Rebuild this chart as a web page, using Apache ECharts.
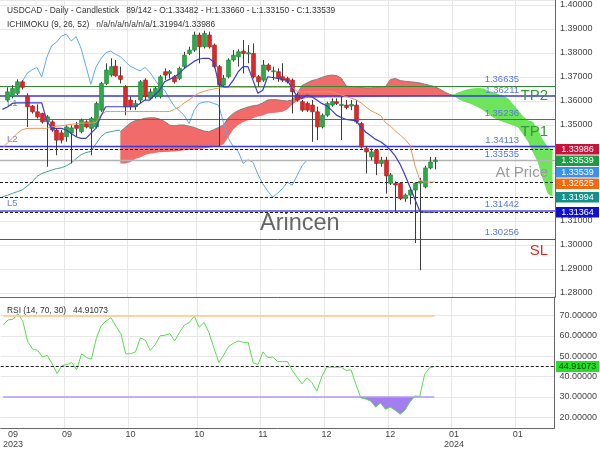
<!DOCTYPE html>
<html>
<head>
<meta charset="utf-8">
<script src="https://cdn.jsdelivr.net/npm/echarts@6/dist/echarts.min.js"></script>
<style>
html,body{margin:0;padding:0;background:#ffffff;}
#chart{width:600px;height:450px;}
</style>
</head>
<body>
<div id="chart"></div>
<script>
// ================= DATA =================
const slotCount = 113;            // daily slots shown (candles + projected cloud)
const candleStart = 1;            // slot of first candle

const candleOpen = [
1.3604,1.3618,1.3632,1.3680,1.3620,1.3579,1.3555,1.3548,1.3513,1.3513,
1.3479,1.3467,1.3451,1.3467,1.3499,1.3472,1.3513,1.3486,1.3492,1.3562,
1.3673,1.3708,1.3745,1.3705,1.3659,1.3604,1.3576,1.3604,1.3687,1.3611,
1.3618,1.3618,1.3722,1.3715,1.3701,1.3694,1.3743,1.3798,1.3812,1.3875,
1.3826,1.3875,1.3833,1.3743,1.3666,1.3701,1.3771,1.3784,1.3808,1.3796,
1.3798,1.3701,1.3687,1.3750,1.3722,1.3722,1.3701,1.3694,1.3687,1.3625,
1.3597,1.3590,1.3583,1.3555,1.3492,1.3541,1.3583,1.3597,1.3581,1.3583,
1.3579,1.3583,1.3506,1.3402,1.3367,1.3395,1.3340,1.3353,1.3257,1.3256,
1.3257,1.3194,1.3208,1.3229,1.3258,1.3242,1.3321,1.33482];
const candleHigh = [
1.3657,1.3666,1.3690,1.3687,1.3632,1.3583,1.3586,1.3551,1.3541,1.3520,
1.3486,1.3479,1.3499,1.3499,1.3513,1.3527,1.3520,1.3534,1.3597,1.3680,
1.3757,1.3778,1.3771,1.3743,1.3666,1.3618,1.3604,1.3687,1.3694,1.3652,
1.3659,1.3708,1.3736,1.3729,1.3708,1.3743,1.3805,1.3826,1.3889,1.3885,
1.3893,1.3889,1.3840,1.3750,1.3708,1.3778,1.3812,1.3815,1.3854,1.3833,
1.3840,1.3708,1.3771,1.3757,1.3743,1.3736,1.3757,1.3701,1.3694,1.3634,
1.3604,1.3597,1.3604,1.3576,1.3548,1.3597,1.3611,1.3611,1.3618,1.3604,
1.3604,1.3604,1.3513,1.3412,1.3402,1.3398,1.3367,1.3367,1.3300,1.3265,
1.3262,1.3215,1.3240,1.3262,1.3280,1.3330,1.3367,1.33660];
const candleLow = [
1.3597,1.3611,1.3625,1.3648,1.3492,1.3548,1.3527,1.3506,1.3326,1.3472,
1.3374,1.3423,1.3430,1.3340,1.3451,1.3465,1.3486,1.3374,1.3486,1.3555,
1.3666,1.3701,1.3701,1.3673,1.3541,1.3562,1.3562,1.3590,1.3604,1.3604,
1.3611,1.3611,1.3687,1.3694,1.3673,1.3687,1.3736,1.3791,1.3805,1.3757,
1.3819,1.3819,1.3736,1.3409,1.3659,1.3694,1.3764,1.3743,1.3715,1.3757,
1.3694,1.3659,1.3680,1.3722,1.3687,1.3680,1.3680,1.3673,1.3548,1.3597,
1.3555,1.3555,1.3430,1.3437,1.3486,1.3534,1.3576,1.3583,1.3437,1.3565,
1.3562,1.3506,1.3402,1.3298,1.3353,1.3291,1.3326,1.3214,1.3250,1.3139,
1.3187,1.3180,1.3169,1.3008,1.2895,1.3236,1.3315,1.33150];
const candleClose = [
1.3638,1.3652,1.3680,1.3657,1.3576,1.3555,1.3534,1.3513,1.3534,1.3479,
1.3437,1.3437,1.3492,1.3488,1.3486,1.3520,1.3492,1.3527,1.3590,1.3673,
1.3729,1.3743,1.3705,1.3690,1.3576,1.3576,1.3590,1.3680,1.3618,1.3638,
1.3652,1.3701,1.3708,1.3722,1.3680,1.3736,1.3791,1.3812,1.3875,1.3826,
1.3882,1.3826,1.3743,1.3666,1.3694,1.3771,1.3791,1.3805,1.3798,1.3801,
1.3701,1.3680,1.3750,1.3729,1.3726,1.3694,1.3687,1.3680,1.3638,1.3604,
1.3562,1.3562,1.3555,1.3492,1.3541,1.3590,1.3597,1.3590,1.3586,1.3573,
1.3586,1.3513,1.3409,1.3388,1.3388,1.3340,1.3353,1.3288,1.3292,1.3250,
1.3194,1.3208,1.3229,1.3257,1.3266,1.3321,1.3346,1.33539];

const tenkanStart = 0;
const tenkan = [
1.3565,1.3575,1.3590,1.3592,1.3592,1.3592,1.3592,1.3592,1.3592,1.3520,
1.3486,1.3486,1.3486,1.3479,1.3465,1.3451,1.3444,1.3444,1.3465,1.3486,
1.3534,1.3576,1.3576,1.3576,1.3576,1.3576,1.3576,1.3576,1.3590,1.3604,
1.3604,1.3625,1.3645,1.3680,1.3690,1.3700,1.3715,1.3735,1.3750,1.3765,
1.3775,1.3778,1.3778,1.3764,1.3673,1.3659,1.3659,1.3687,1.3722,1.3743,
1.3743,1.3687,1.3632,1.3645,1.3701,1.3698,1.3694,1.3690,1.3687,1.3652,
1.3618,1.3611,1.3625,1.3618,1.3604,1.3590,1.3580,1.3562,1.3541,1.3531,
1.3523,1.3520,1.3518,1.3490,1.3470,1.3455,1.3440,1.3430,1.3415,1.3395,
1.3370,1.3335,1.3290,1.3240,1.3190,1.3140,1.31364,1.31364,1.31364];

const kijunStart = 0;
const kijun = [
1.3404,1.3425,1.3445,1.3465,1.3480,1.3486,1.3486,1.3486,1.3486,1.3486,
1.3492,1.3495,1.3497,1.3500,1.3503,1.3505,1.3508,1.3508,1.3508,1.3510,
1.3540,1.3556,1.3556,1.3556,1.3556,1.3556,1.3556,1.3556,1.3556,1.3556,
1.3556,1.3556,1.3556,1.3556,1.3556,1.3565,1.3575,1.3592,1.3605,1.3620,
1.3633,1.3640,1.3646,1.3650,1.3654,1.3657,1.3657,1.3657,1.3657,1.3657,
1.3657,1.3657,1.3657,1.3657,1.3657,1.3657,1.3657,1.3657,1.3657,1.3657,
1.3640,1.3638,1.3638,1.3638,1.3638,1.3638,1.3638,1.3638,1.3632,1.3625,
1.3618,1.3612,1.3605,1.3592,1.3575,1.3560,1.3550,1.3540,1.3510,1.3495,
1.3475,1.3458,1.3440,1.3415,1.3330,1.3270,1.32625,1.32625,1.32625];

const chikouStart = 3;
const chikou = [
1.3645,1.3680,1.3715,1.3730,1.3740,1.3700,1.3780,1.3830,1.3845,1.3870,
1.3878,1.3850,1.3868,1.3820,1.3745,1.3670,1.3740,1.3775,1.3800,1.3808,
1.3795,1.3785,1.3765,1.3745,1.3735,1.3725,1.3740,1.3720,1.3690,1.3660,
1.3645,1.3610,1.3578,1.3560,1.3540,1.3506,1.3560,1.3590,1.3595,1.3597,
1.3590,1.3583,1.3510,1.3444,1.3410,1.3390,1.3340,1.3355,1.3345,1.3295,
1.3255,1.3225,1.3200,1.3215,1.3235,1.3262,1.3249,1.3290,1.3330,1.3354];

const laggingStart = 0;
const lagging = [
1.3201,1.3207,1.3215,1.3222,1.3229,1.3245,1.3262,1.3285,1.3298,1.3305,
1.3312,1.3318,1.3322,1.3330,1.3342,1.3360,1.3376,1.3385,1.3390,1.3420,
1.3450,1.3467,1.3472,1.3476,1.3479];

const cloudStart = 24;
const spanA = [
1.3340,1.3340,1.3345,1.3358,1.3365,1.3375,1.3380,1.3383,1.3386,1.3388,
1.3389,1.3390,1.3392,1.3395,1.3396,1.3398,1.3400,1.3402,1.3405,1.3408,
1.3410,1.3420,1.3450,1.3482,1.3500,1.3512,1.3520,1.3528,1.3535,1.3540,
1.3548,1.3550,1.3552,1.3555,1.3565,1.3585,1.3600,1.3608,1.3612,1.3613,
1.3614,1.3614,1.3615,1.3615,1.3615,1.3615,1.3616,1.3616,1.3616,1.3616,
1.3617,1.3617,1.3617,1.3618,1.3618,1.3618,1.3619,1.3619,1.3619,1.3620,
1.3620,1.3620,1.3620,1.3621,1.3621,1.3621,1.3621,1.3621,
1.3628,1.3638,1.3645,1.3650,1.3653,1.3654,1.3652,1.3642,1.3635,1.3628,
1.3622,1.3610,1.3585,1.3562,1.3535,1.3520,1.3514,1.3480,1.3440,1.3410,1.3396];
const spanB = [
1.3472,1.3490,1.3507,1.3518,1.3522,1.3528,1.3530,1.3530,1.3525,1.3515,
1.3500,1.3497,1.3500,1.3500,1.3495,1.3490,1.3482,1.3475,1.3472,1.3480,
1.3490,1.3500,1.3530,1.3548,1.3560,1.3568,1.3575,1.3580,1.3583,1.3592,
1.3604,1.3606,1.3605,1.3602,1.3600,1.3605,1.3630,1.3665,1.3675,1.3685,
1.3690,1.3698,1.3705,1.3708,1.3706,1.3695,1.3662,1.3660,1.3658,1.3656,
1.3655,1.3655,1.3656,1.3658,1.3660,1.3690,1.3694,1.3685,1.3682,1.3680,
1.3678,1.3675,1.3670,1.3665,1.3660,1.3650,1.3638,1.3628,
1.3620,1.3606,1.3597,1.3591,1.3582,1.3572,1.3560,1.3545,1.3530,1.3520,
1.3512,1.3505,1.3498,1.3490,1.3460,1.3430,1.3385,1.3345,1.3275,1.3215,1.3200];

const rsiStart = 0;
const rsi = [
65.3,67.8,68.1,70.8,67.3,57.1,53.5,52.9,49.6,50.4,
46.2,41.5,45.4,45.9,46.9,43.3,51.2,49.3,48.5,58.7,
65.0,67.3,68.9,64.7,61.1,51.2,51.2,52.1,59.0,57.9,
52.8,55.6,60.0,60.3,61.1,57.5,61.8,65.3,66.6,69.7,
64.2,66.6,61.5,54.0,46.9,50.6,54.8,56.4,57.5,56.8,
56.8,46.9,45.9,52.1,49.3,49.6,47.4,47.3,47.4,43.0,
39.6,36.4,39.4,37.1,32.8,39.9,44.6,44.6,44.6,44.6,
43.0,43.3,36.0,29.5,29.0,28.0,25.0,27.0,24.0,25.0,
23.5,21.5,23.5,27.5,30.5,30.2,41.0,44.3,44.91073];
const rsiUpper = 70, rsiLower = 30, rsiLast = 44.91073;

// horizontal levels on the price panel
const levelValues = [1.36635, 1.36211, 1.35236, 1.34113, 1.33986, 1.33535, 1.32625, 1.31994, 1.31442, 1.31364, 1.30256];
// price tags on the right axis
const tagValues = [1.33986, 1.33539, 1.33539, 1.32625, 1.31994, 1.31364];

// x labels
const xLabelSlots = [2, 13, 26, 40, 53, 66, 79, 92, 105];
const xLabelTexts = ['09\n2023', '09', '10', '10', '11', '12', '12', '01\n2024', '01'];
const xGridSlots = [13, 26, 40, 53, 66, 79, 92, 105];

const headerLine1 = 'USDCAD - Daily - Candlestick   89/142 - O:1.33482 - H:1.33660 - L:1.33150 - C:1.33539';
const headerLine2 = 'ICHIMOKU (9, 26, 52)   n/a/n/a/n/a/n/a/1.31994/1.33986';
const rsiHeader = 'RSI (14, 70, 30)   44.91073';
const watermark = 'Arincen';

// ================= STYLE / LAYOUT =================
const FONT = '"Liberation Sans", Arial, Helvetica, sans-serif';
const levelStyles = [
  {line:{color:'#2e8b2e', width:1, type:'solid'}, num:true},
  {line:{color:'#3838d8', width:1.6, type:'solid'}, num:true,
     big:{text:'TP2', pos:'insideEnd', color:'#2f9b35', dy:0},
     left:{text:'L1', pos:'insideStartBottom', color:'#6d9d80'}},
  {line:{color:'#2e8b2e', width:1, type:'solid'}, num:true,
     big:{text:'TP1', pos:'insideEndBottom', color:'#2f9b35', dy:5}},
  {line:{color:'#3838d8', width:1.3, type:'solid'}, num:true,
     left:{text:'L2', pos:'insideStartTop', color:'#6a86d8'}},
  {line:{color:'#1e1e1e', width:1, type:[3,2]}},
  {line:{color:'#b4b4b4', width:1.3, type:'solid'}, num:true,
     big:{text:'At Price', pos:'insideEndBottom', color:'#9a9a9a', dy:5}},
  {line:{color:'#1e1e1e', width:1, type:[3,2]}},
  {line:{color:'#1e1e1e', width:1, type:[3,2]}},
  {line:{color:'#5050e6', width:1.6, type:'solid'}, num:true,
     left:{text:'L5', pos:'insideStartTop', color:'#6a86d8'}},
  {line:{color:'#1e1e1e', width:1, type:[3,2]}},
  {line:{color:'#dd2020', width:1, type:'solid'}, num:true,
     big:{text:'SL', pos:'insideEndBottom', color:'#e02828', dy:5}}
];
const tagColors = ['#c8133a', '#1d9b45', '#3a92e8', '#f26a0f', '#14908c', '#1010cc'];
const hiddenLine = {color:'rgba(0,0,0,0)', width:1, type:'solid'};

// price panel: 1.40 at y=5, 1.28 at y=293 -> 2400 px per 1.0
const mainTop = 0, mainH = 297;
const mainMax = 1.40 + 5 / 2400, mainMin = 1.40 - (mainH - 5) / 2400;
// rsi panel: 70 at y=316, 30 at y=400
const rsiTop = 297, rsiH = 135;
const rsiMax = 70 + (316 - rsiTop) / 2.1, rsiMin = 70 - (rsiTop + rsiH - 316) / 2.1;

// ================= BUILD =================
const cats = Array.from({length: slotCount}, (_, i) => String(i));
function pad(arr, start) {
  const out = new Array(slotCount).fill('-');
  arr.forEach((v, i) => { out[start + i] = v; });
  return out;
}
const candleData = candleOpen.map((o, i) => [candleStart + i, o, candleClose[i], candleLow[i], candleHigh[i]]);

const cloudLower = spanA.map((a, i) => Math.min(a, spanB[i]));
const cloudRed = spanA.map((a, i) => spanB[i] > a ? +(spanB[i] - a).toFixed(6) : 0);
const cloudGreen = spanA.map((a, i) => a > spanB[i] ? +(a - spanB[i]).toFixed(6) : 0);
const redEdge = spanB.map((b, i) => (b >= spanA[i] || (i > 0 && spanB[i-1] >= spanA[i-1])) ? b : '-');

const rsiBase = rsi.map(v => Math.min(v, rsiLower));
const rsiBand = rsi.map(v => +(rsiLower - Math.min(v, rsiLower)).toFixed(4));

const labelMap = {};
xLabelSlots.forEach((s, i) => { labelMap[String(s)] = xLabelTexts[i]; });

// level markLines
const mlData = [];
levelValues.forEach((v, i) => {
  const st = levelStyles[i];
  mlData.push({
    yAxis: v, lineStyle: Object.assign({}, st.line),
    label: st.num ? {show:true, position:'insideEndTop', formatter: v.toFixed(5), color:'#5a78e2',
                     fontSize:9.5, fontFamily:FONT, distance:[36, 1]} : {show:false}
  });
  if (st.big) mlData.push({
    yAxis: v, lineStyle: Object.assign({}, hiddenLine),
    label:{show:true, position:st.big.pos, formatter:st.big.text, color:st.big.color,
           fontSize:15, fontFamily:FONT, distance:[7, st.big.dy]}
  });
  if (st.left) mlData.push({
    yAxis: v, lineStyle: Object.assign({}, hiddenLine),
    label:{show:true, position:st.left.pos, formatter:st.left.text, color:st.left.color,
           fontSize:9.5, fontFamily:FONT, distance:[7, 2]}
  });
});

const gridLineStyle = {color:'#e7e7e7', width:1};
const axisLineStyle = {color:'#666', width:1};

const option = {
  animation: false,
  backgroundColor: '#ffffff',
  textStyle: {fontFamily: FONT},
  grid: [
    {left:0, right:45, top:mainTop, height:mainH},
    {left:0, right:45, top:rsiTop, height:rsiH}
  ],
  xAxis: [
    {gridIndex:0, type:'category', data:cats, boundaryGap:true,
     axisLine:{show:true, lineStyle:axisLineStyle}, axisTick:{show:false}, axisLabel:{show:false},
     splitLine:{show:true, interval:(i) => xGridSlots.includes(i), lineStyle:gridLineStyle}},
    {gridIndex:1, type:'category', data:cats, boundaryGap:true,
     axisLine:{show:true, lineStyle:axisLineStyle}, axisTick:{show:false},
     axisLabel:{show:true, interval:(i) => xLabelSlots.includes(i),
                formatter:(v) => labelMap[v] || '', fontSize:9, color:'#444',
                lineHeight:10, margin:2, fontFamily:FONT},
     splitLine:{show:true, interval:(i) => xGridSlots.includes(i), lineStyle:gridLineStyle}}
  ],
  yAxis: [
    {gridIndex:0, type:'value', position:'right', min:mainMin, max:mainMax, splitNumber:12,
     axisLine:{show:true, lineStyle:axisLineStyle}, axisTick:{show:false},
     axisLabel:{formatter:(v) => v.toFixed(5), fontSize:9, color:'#444', margin:5,
                showMinLabel:false, showMaxLabel:false, fontFamily:FONT},
     splitLine:{show:true, lineStyle:gridLineStyle}},
    {gridIndex:1, type:'value', position:'right', min:rsiMin, max:rsiMax, splitNumber:7,
     axisLine:{show:true, lineStyle:axisLineStyle}, axisTick:{show:false},
     axisLabel:{formatter:(v) => v.toFixed(5), fontSize:9, color:'#444', margin:5,
                showMinLabel:false, showMaxLabel:false, fontFamily:FONT},
     splitLine:{show:true, lineStyle:gridLineStyle}}
  ],
  series: [
    // cloud
    {type:'line', name:'cloudBase', xAxisIndex:0, yAxisIndex:0, stack:'cloud', data:pad(cloudLower, cloudStart),
     symbol:'none', lineStyle:{opacity:0}, silent:true, z:1},
    {type:'line', name:'cloudRed', xAxisIndex:0, yAxisIndex:0, stack:'cloud', data:pad(cloudRed, cloudStart),
     symbol:'none', lineStyle:{opacity:0}, areaStyle:{color:'#f26b6b', opacity:1}, silent:true, z:1},
    {type:'line', name:'cloudGreen', xAxisIndex:0, yAxisIndex:0, stack:'cloud', data:pad(cloudGreen, cloudStart),
     symbol:'none', lineStyle:{opacity:0}, areaStyle:{color:'#6ee35c', opacity:1}, silent:true, z:1},
    {type:'line', name:'redEdge', xAxisIndex:0, yAxisIndex:0, data:pad(redEdge, cloudStart),
     symbol:'none', lineStyle:{color:'#8c7b7b', width:1}, silent:true, z:2},
    // lagging lines
    {type:'line', name:'lagging', xAxisIndex:0, yAxisIndex:0, data:pad(lagging, laggingStart),
     symbol:'none', lineStyle:{color:'#4b9e8e', width:1}, silent:true, z:3},
    {type:'line', name:'chikou', xAxisIndex:0, yAxisIndex:0, data:pad(chikou, chikouStart),
     symbol:'none', lineStyle:{color:'#62a8ee', width:1}, silent:true, z:3},
    // levels
    {type:'line', name:'levels', xAxisIndex:0, yAxisIndex:0, data:pad([], 0), symbol:'none', silent:true, z:4,
     markLine:{symbol:['none','none'], precision:5, silent:true, animation:false, data:mlData}},
    // candles
    {type:'custom', name:'candles', xAxisIndex:0, yAxisIndex:0, z:5, silent:true,
     encode:{x:0, y:[1,2,3,4]}, data:candleData,
     renderItem:(params, api) => {
       const x = api.value(0), o = api.value(1), c = api.value(2), l = api.value(3), h = api.value(4);
       const pO = api.coord([x, o]), pC = api.coord([x, c]), pL = api.coord([x, l]), pH = api.coord([x, h]);
       const bw = api.size([1, 0])[0] * 0.78;
       const cx = Math.round(pO[0]) + 0.5;
       const up = c >= o;
       const top = Math.min(pO[1], pC[1]), bot = Math.max(pO[1], pC[1]);
       return {type:'group', children:[
         {type:'line', shape:{x1:cx, y1:pH[1], x2:cx, y2:pL[1]}, style:{stroke:'#3c3c3c', lineWidth:1}},
         {type:'rect', shape:{x:cx - bw/2, y:top, width:bw, height:Math.max(1, bot - top)},
          style:{fill: up ? '#2fa84b' : '#dc2a2a', stroke: up ? '#1f8a37' : '#b51e1e', lineWidth:0.7}}
       ]};
     }},
    // tenkan / kijun
    {type:'line', name:'kijun', xAxisIndex:0, yAxisIndex:0, data:pad(kijun, kijunStart),
     symbol:'none', lineStyle:{color:'#f39357', width:1}, silent:true, z:6},
    {type:'line', name:'tenkan', xAxisIndex:0, yAxisIndex:0, data:pad(tenkan, tenkanStart),
     symbol:'none', lineStyle:{color:'#3c3cc8', width:1.2}, silent:true, z:6},
    // RSI fill below 30
    {type:'line', name:'rsiBase', xAxisIndex:1, yAxisIndex:1, stack:'rsiFill', data:pad(rsiBase, rsiStart),
     symbol:'none', lineStyle:{opacity:0}, silent:true, z:1},
    {type:'line', name:'rsiBand', xAxisIndex:1, yAxisIndex:1, stack:'rsiFill', data:pad(rsiBand, rsiStart),
     symbol:'none', lineStyle:{opacity:0}, areaStyle:{color:'#a27ef0', opacity:1}, silent:true, z:1},
    // RSI
    {type:'line', name:'rsi', xAxisIndex:1, yAxisIndex:1, data:pad(rsi, rsiStart),
     symbol:'none', lineStyle:{color:'#5ade4e', width:1}, silent:true, z:4,
     markLine:{symbol:['none','none'], precision:5, silent:true, animation:false, label:{show:false},
       data:[
         [{coord:[String(rsiStart), rsiUpper], lineStyle:{color:'#ffc58a', width:1.5, type:'solid'}},
          {coord:[String(rsiStart + rsi.length - 1), rsiUpper]}],
         [{coord:[String(rsiStart), rsiLower], lineStyle:{color:'#b29bf2', width:1.5, type:'solid'}},
          {coord:[String(rsiStart + rsi.length - 1), rsiLower]}],
         {yAxis:rsiLast, lineStyle:{color:'#1e1e1e', width:1, type:[3,2]}}
       ]}}
  ]
};

const chart = echarts.init(document.getElementById('chart'), null, {renderer:'canvas', width:600, height:450});
chart.setOption(option);

function txt(x, y, text, font, fill, align, z) {
  return {type:'text', x:x, y:y, z:z || 50, silent:true,
          style:{text:text, font:font, fill:fill, textAlign:align || 'left', align:align || 'left',
                 textVerticalAlign:'middle', verticalAlign:'middle'}};
}
const graphics = [
  txt(7, 11, headerLine1, '8.4px ' + FONT, '#333'),
  txt(7, 25, headerLine2, '8.4px ' + FONT, '#333'),
  txt(7, 311, rsiHeader, '8.4px ' + FONT, '#333'),
  Object.assign(txt(260, 224, watermark, '23.5px ' + FONT, '#666'), {z:1})
];

// right-side price tags, stacked to avoid overlap
let prevY = -Infinity;
const tagH = 11.5;
tagValues.forEach((v, i) => {
  let y = chart.convertToPixel({yAxisIndex:0}, v);
  y = Math.max(y, prevY + tagH);
  prevY = y;
  graphics.push({type:'rect', z:60, silent:true, shape:{x:556, y:y - tagH/2 + 0.5, width:43, height:tagH - 1},
                 style:{fill:tagColors[i]}});
  graphics.push(txt(577.5, y, v.toFixed(5), '9px ' + FONT, '#ffffff', 'center', 61));
});
const rsiY = chart.convertToPixel({yAxisIndex:1}, rsiLast);
graphics.push({type:'rect', z:60, silent:true, shape:{x:556, y:rsiY - 5.5, width:43, height:11},
               style:{fill:'#22e022'}});
graphics.push(txt(577.5, rsiY, rsiLast.toFixed(5), '9px ' + FONT, '#0b3d0b', 'center', 61));

chart.setOption({graphic: graphics});
</script>
</body>
</html>
